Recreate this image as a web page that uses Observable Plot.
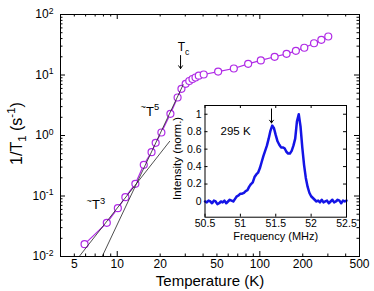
<!DOCTYPE html>
<html><head><meta charset="utf-8">
<script src="https://cdn.jsdelivr.net/npm/d3@7"></script>
<script src="https://cdn.jsdelivr.net/npm/@observablehq/plot@0.6"></script>
<style>
body{margin:0;background:#fff;}
#wrap{position:relative;width:374px;height:291px;}
#wrap svg{position:absolute;}
</style></head><body><div id="wrap"></div>
<script>
// ---- main panel data ----
const temperature = [5.9, 8.45, 10.1, 11.4, 13.4, 15.35, 17.4, 18.6, 20.4, 23.6, 26.5, 28.2, 30.2, 32.0, 33.7, 35.4, 37.3, 40.4, 51, 65.7, 82.8, 101.6, 127, 154, 179, 205, 240, 270, 302];
const rate = [0.016, 0.036, 0.0628, 0.0955, 0.159, 0.328, 0.53, 0.757, 1.12, 2.28, 4.25, 5.91, 7.15, 7.96, 8.59, 9.09, 9.73, 10.2, 11.4, 12.8, 15.3, 17.4, 20.0, 22.4, 25.1, 28.2, 33.5, 38.2, 43.3];
const fitT3Temp = [5.41, 23.3];
const fitT3Rate = [0.01, 0.8];
const fitT5Temp = [7.84, 29];
const fitT5Rate = [0.01, 6.9];
const xTickLabels = [5, 10, 20, 50, 100, 200, 500];
const xMajorTicks = [10, 100];
const xMinorTicks = [4, 5, 6, 7, 8, 9, 20, 30, 40, 50, 60, 70, 80, 90, 200, 300, 400];
const yTickLabels = [0.01, 0.1, 1, 10, 100];
const yMinorTicks = [0.02,0.03,0.04,0.05,0.06,0.07,0.08,0.09,0.2,0.3,0.4,0.5,0.6,0.7,0.8,0.9,2,3,4,5,6,7,8,9,20,30,40,50,60,70,80,90];
const tcArrow = {T: 27.8, top: 21, bottom: 12.8};
const tcLabel = {T: 27.8, r: 24.5, text: "T_{c}"};
const fitLabels = [
  {T: 14.56, r: 2.14, text: "^{~}T^{5}"},
  {T: 6.09, r: 0.0614, text: "^{~}T^{3}"}
];

// ---- inset data ----
const frequency = [50.500,50.525,50.550,50.575,50.600,50.625,50.650,50.675,50.700,50.725,50.750,50.775,50.800,50.825,50.850,50.875,50.900,50.925,50.950,50.975,51.000,51.025,51.050,51.075,51.100,51.125,51.150,51.175,51.200,51.225,51.250,51.275,51.300,51.325,51.350,51.375,51.400,51.425,51.450,51.475,51.500,51.525,51.550,51.575,51.600,51.625,51.650,51.675,51.700,51.725,51.750,51.775,51.800,51.825,51.850,51.875,51.900,51.925,51.950,51.975,52.000,52.025,52.050,52.075,52.100,52.125,52.150,52.175,52.200,52.225,52.250,52.275,52.300,52.325,52.350,52.375,52.400,52.425,52.450,52.475,52.500];
const intensity = [0.00,-0.01,0.01,0.00,-0.02,0.01,0.00,-0.03,-0.02,0.00,-0.01,0.01,-0.02,0.00,0.02,0.01,0.00,0.03,0.06,0.07,0.09,0.09,0.10,0.12,0.13,0.17,0.20,0.22,0.28,0.31,0.33,0.38,0.45,0.52,0.58,0.64,0.72,0.81,0.87,0.84,0.76,0.69,0.65,0.62,0.62,0.61,0.57,0.55,0.55,0.58,0.64,0.72,0.92,1.00,0.86,0.62,0.42,0.27,0.17,0.10,0.06,0.04,0.02,0.00,0.01,-0.01,0.02,-0.01,0.00,0.01,-0.02,0.00,0.02,-0.01,0.00,0.02,0.01,-0.02,0.01,0.00,0.01];
const insetXTicks = [50.5, 51, 51.5, 52, 52.5];
const insetYTicks = [0, 0.2, 0.4, 0.6, 0.8, 1];
const insetArrow = {f: 51.44, top: 1.061, bottom: 0.90};
const insetLabel = {f: 50.72, v: 0.76, text: "295 K"};

const MAG = "#b02be6";
const BLUE = "#1414e6";
const FONT = "'Liberation Sans', Arial, Helvetica, sans-serif";

const points = temperature.map((T, i) => ({T, r: rate[i]}));
const fit3 = fitT3Temp.map((T, i) => ({T, r: fitT3Rate[i]}));
const fit5 = fitT5Temp.map((T, i) => ({T, r: fitT5Rate[i]}));
const spectrum = frequency.map((f, i) => ({f, v: intensity[i]}));

const W = 374, Hh = 291, mL = 60, mR = 15, mT = 14, mB = 35;
const IW = W - mL - mR, IH = Hh - mT - mB;
const big = 5, small = 2.5;

const main = Plot.plot({
  width: W, height: Hh, marginLeft: mL, marginRight: mR, marginTop: mT, marginBottom: mB,
  style: {fontFamily: FONT, fontSize: "12px", background: "transparent", color: "black", overflow: "visible"},
  x: {type: "log", domain: [4, 500]},
  y: {type: "log", domain: [0.01, 100]},
  marks: [
    Plot.tickX(xMinorTicks, {x: d => d, insetTop: IH - small, stroke: "black"}),
    Plot.tickX(xMinorTicks, {x: d => d, insetBottom: IH - small, stroke: "black"}),
    Plot.tickX(xMajorTicks, {x: d => d, insetTop: IH - big, stroke: "black"}),
    Plot.tickX(xMajorTicks, {x: d => d, insetBottom: IH - big, stroke: "black"}),
    Plot.tickY(yMinorTicks, {y: d => d, insetRight: IW - small, stroke: "black"}),
    Plot.tickY(yMinorTicks, {y: d => d, insetLeft: IW - small, stroke: "black"}),
    Plot.tickY(yTickLabels, {y: d => d, insetRight: IW - big, stroke: "black"}),
    Plot.tickY(yTickLabels, {y: d => d, insetLeft: IW - big, stroke: "black"}),
    Plot.line(points, {x: "T", y: "r", stroke: MAG, strokeWidth: 1.2}),
    Plot.dot(points, {x: "T", y: "r", r: 3.5, stroke: MAG, fill: "white", strokeWidth: 1.2}),
    Plot.line(fit3, {x: "T", y: "r", stroke: "#222", strokeWidth: 0.8, clip: true}),
    Plot.line(fit5, {x: "T", y: "r", stroke: "#222", strokeWidth: 0.8, clip: true}),
    Plot.arrow([tcArrow], {x1: "T", x2: "T", y1: "top", y2: "bottom", stroke: "black", strokeWidth: 1, headLength: 5, headAngle: 70}),
    Plot.text([tcLabel], {x: "T", y: "r", text: "text", lineAnchor: "bottom", dx: 3, fontSize: 12}),
    Plot.text(fitLabels, {x: "T", y: "r", text: "text", lineAnchor: "bottom", textAnchor: "start", fontSize: 13}),
    Plot.axisX({ticks: xTickLabels, tickSize: 0, tickPadding: 3, tickFormat: d => String(d), label: null, fontSize: 12}),
    Plot.axisY({ticks: yTickLabels, tickSize: 0, tickPadding: 7, tickFormat: d => "10^{" + Math.round(Math.log10(d)) + "}", label: null, fontSize: 12}),
    Plot.text(["1/T_{1} (s^{-1})"], {text: d => d, frameAnchor: "left", textAnchor: "middle", dx: -44, dy: -2, rotate: -90, fontSize: 16}),
    Plot.text(["Temperature (K)"], {text: d => d, frameAnchor: "bottom", dy: 29, lineAnchor: "bottom", fontSize: 15}),
    Plot.frame({stroke: "black", strokeWidth: 1})
  ]
});

// inset
const iLeft = 160, iTop = 100, iW = 190, iH = 146;
const imL = 44.5, imR = 4, imT = 5, imB = 29.3;
const iIW = iW - imL - imR, iIH = iH - imT - imB;
const it = 3;
const inset = Plot.plot({
  width: iW, height: iH, marginLeft: imL, marginRight: imR, marginTop: imT, marginBottom: imB,
  style: {fontFamily: FONT, fontSize: "10.5px", background: "transparent", color: "black", overflow: "visible"},
  x: {domain: [50.5, 52.5]},
  y: {domain: [-0.18, 1.1]},
  marks: [
    Plot.frame({fill: "white", stroke: null}),
    Plot.tickX(insetXTicks, {x: d => d, insetTop: iIH - it, stroke: "black"}),
    Plot.tickX(insetXTicks, {x: d => d, insetBottom: iIH - it, stroke: "black"}),
    Plot.tickY(insetYTicks, {y: d => d, insetRight: iIW - it, stroke: "black"}),
    Plot.tickY(insetYTicks, {y: d => d, insetLeft: iIW - it, stroke: "black"}),
    Plot.line(spectrum, {x: "f", y: "v", stroke: BLUE, strokeWidth: 2.5, strokeLinejoin: "round"}),
    Plot.arrow([insetArrow], {x1: "f", x2: "f", y1: "top", y2: "bottom", stroke: "black", strokeWidth: 1, headLength: 5, headAngle: 70}),
    Plot.text([insetLabel], {x: "f", y: "v", text: "text", lineAnchor: "bottom", textAnchor: "start", fontSize: 11.5}),
    Plot.axisX({ticks: insetXTicks, tickSize: 0, tickPadding: 2.5, tickFormat: d => String(d), label: null, fontSize: 10.5}),
    Plot.axisY({ticks: insetYTicks, tickSize: 0, tickPadding: 3.5, tickFormat: d => String(d), label: null, fontSize: 10.5}),
    Plot.text(["Intensity (norm.)"], {text: d => d, frameAnchor: "left", textAnchor: "middle", dx: -28, dy: -3, rotate: -90, fontSize: 11.5}),
    Plot.text(["Frequency (MHz)"], {text: d => d, frameAnchor: "bottom", dy: 22.5, lineAnchor: "bottom", fontSize: 11}),
    Plot.frame({stroke: "black", strokeWidth: 1})
  ]
});

const wrap = document.getElementById("wrap");
main.style.left = "0px"; main.style.top = "0px";
inset.style.left = iLeft + "px"; inset.style.top = iTop + "px";
wrap.appendChild(main);
wrap.appendChild(inset);

// rich text: ^{...} superscript, _{...} subscript
function rich(svg) {
  svg.querySelectorAll("text").forEach(el => {
    const s = el.textContent;
    if (!/[\^_]\{/.test(s)) return;
    const fs = parseFloat(getComputedStyle(el).fontSize) || 12;
    el.textContent = "";
    const re = /([\^_])\{([^}]*)\}|([^\^_]+)/g;
    let m, shift = 0;
    while ((m = re.exec(s))) {
      const ts = document.createElementNS("http://www.w3.org/2000/svg", "tspan");
      let target = 0;
      if (m[1] === "^") { target = -0.4 * fs; ts.setAttribute("font-size", 0.72 * fs); ts.textContent = m[2]; }
      else if (m[1] === "_") { target = 0.3 * fs; ts.setAttribute("font-size", 0.72 * fs); ts.textContent = m[2]; }
      else ts.textContent = m[3];
      ts.setAttribute("dy", target - shift);
      shift = target;
      el.appendChild(ts);
    }
  });
}
rich(main);
rich(inset);
</script>
</body></html>
